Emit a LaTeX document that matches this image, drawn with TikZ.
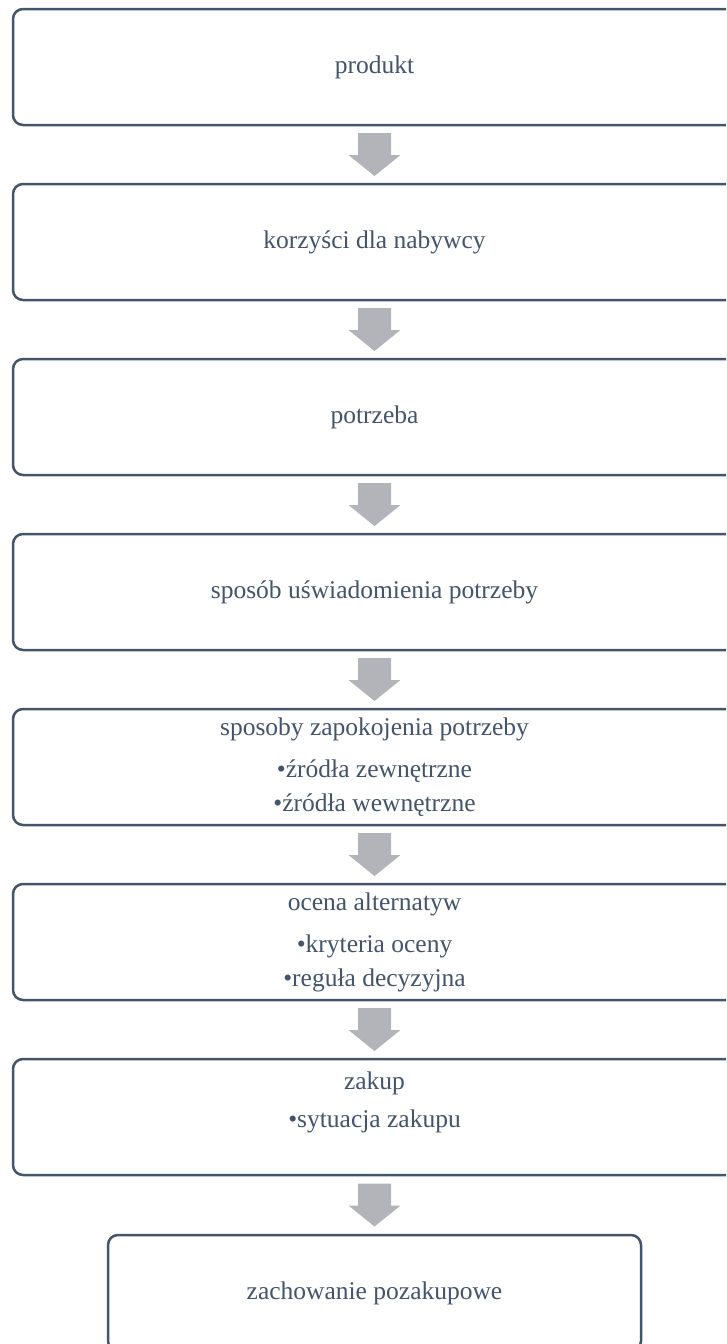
\documentclass[tikz,border=0pt]{standalone}
\usepackage{fontspec}
\setmainfont{Liberation Serif}
\usetikzlibrary{calc}
\definecolor{boxline}{HTML}{44546A}
\definecolor{arrowgray}{RGB}{178,180,186}
\tikzset{
  stage/.style={draw=boxline, line width=2.5pt, rounded corners=10pt, fill=white,
    text=boxline, align=center, font=\fontsize{25.5}{34}\selectfont,
    minimum height=116pt, inner sep=0pt},
  wide/.style={stage, minimum width=723pt},
  narrow/.style={stage, minimum width=533pt},
  blockarrow/.style={fill=arrowgray, draw=none}
}
\newcommand\stagearrow[2]{%
  \path ($(#1.south)!0.5!(#2.north)$) coordinate (mid-#1);
  \fill[blockarrow] ($(mid-#1)+(-16.5,-21.5)$) -- ($(mid-#1)+(16.5,-21.5)$)
    -- ($(mid-#1)+(16.5,0.5)$) -- ($(mid-#1)+(26,0.5)$) -- ($(mid-#1)+(0,21.5)$)
    -- ($(mid-#1)+(-26,0.5)$) -- ($(mid-#1)+(-16.5,0.5)$) -- cycle;
}
\begin{document}
\begin{tikzpicture}[x=1pt,y=-1pt]
  \useasboundingbox (0,0) rectangle (726,1344);
  \clip (0,0) rectangle (726,1344);
  \node[wide] (b1) at (374.5,67) {produkt};
  \node[wide] (b2) at (374.5,242) {korzyści dla nabywcy};
  \node[wide] (b3) at (374.5,417) {potrzeba};
  \node[wide] (b4) at (374.5,592) {sposób uświadomienia potrzeby};
  \node[wide] (b5) at (374.5,767) {sposoby zapokojenia potrzeby\\[8pt]•źródła zewnętrzne\\•źródła wewnętrzne};
  \node[wide] (b6) at (374.5,942) {ocena alternatyw\\[8pt]•kryteria oceny\\•reguła decyzyjna};
  \node[wide] (b7) at (374.5,1117) {zakup\\[4pt]•sytuacja zakupu\\\mbox{}};
  \node[narrow] (b8) at (374.5,1293) {zachowanie pozakupowe};
  \stagearrow{b1}{b2}
  \stagearrow{b2}{b3}
  \stagearrow{b3}{b4}
  \stagearrow{b4}{b5}
  \stagearrow{b5}{b6}
  \stagearrow{b6}{b7}
  \stagearrow{b7}{b8}
\end{tikzpicture}
\end{document}
